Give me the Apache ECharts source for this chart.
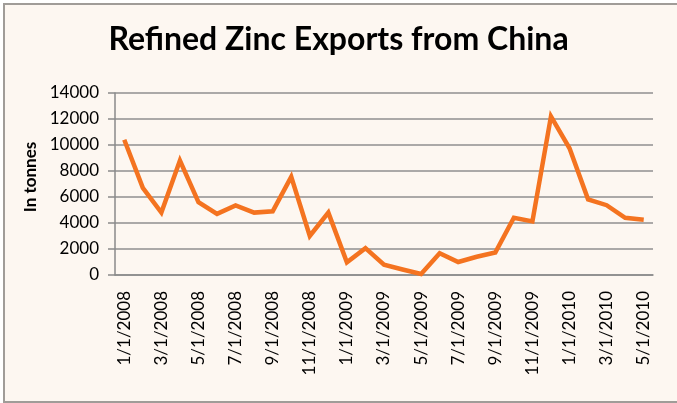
<!DOCTYPE html>
<html>
<head>
  <meta charset="UTF-8">
  <title>Refined Zinc Exports from China</title>
  <script src="https://cdn.jsdelivr.net/npm/echarts@6/dist/echarts.min.js"></script>
  <style>
    html, body { margin: 0; padding: 0; background: #fff; }
    #frame {
      position: absolute; left: 3px; top: 3px; width: 690px; height: 396px;
      border: 2px solid #a09c98; background: #fdf7f1;
    }
    #main { position: absolute; left: 0; top: 0; width: 677px; height: 403px; }
  </style>
</head>
<body>
<div id="frame"></div>
<div id="main"></div>
<script type="text/javascript">
  // monthly, 1/1/2008 .. 5/1/2010
  var months = [
    '1/1/2008', '2/1/2008', '3/1/2008', '4/1/2008', '5/1/2008', '6/1/2008',
    '7/1/2008', '8/1/2008', '9/1/2008', '10/1/2008', '11/1/2008', '12/1/2008',
    '1/1/2009', '2/1/2009', '3/1/2009', '4/1/2009', '5/1/2009', '6/1/2009',
    '7/1/2009', '8/1/2009', '9/1/2009', '10/1/2009', '11/1/2009', '12/1/2009',
    '1/1/2010', '2/1/2010', '3/1/2010', '4/1/2010', '5/1/2010'
  ];
  var exportsTonnes = [
    10400, 6700, 4800, 8800, 5600, 4700,
    5350, 4800, 4900, 7550, 3000, 4800,
    980, 2070, 790, 420, 80, 1680,
    1000, 1400, 1730, 4400, 4120, 12200,
    9750, 5820, 5370, 4400, 4250
  ];
  var yTicks = { min: 0, max: 14000, interval: 2000 };

  var myChart = echarts.init(document.getElementById('main'));

  var option = {
    backgroundColor: 'transparent',
    animation: false,
    title: {
      text: 'Refined Zinc Exports from China',
      left: 'center',
      top: 19,
      textStyle: {
        fontFamily: 'Lato',
        fontWeight: 'bold',
        fontSize: 32,
        color: '#000'
      }
    },
    grid: { left: 115, right: 24, top: 93, bottom: 128, containLabel: false },
    xAxis: {
      type: 'category',
      data: months,
      boundaryGap: true,
      axisLine: { lineStyle: { color: '#8a8a8a', width: 1.5 } },
      axisTick: { interval: 1, length: 6, lineStyle: { color: '#8a8a8a', width: 1.5 } },
      axisLabel: {
        interval: 1,
        rotate: 90,
        margin: 16,
        fontFamily: 'Lato',
        fontSize: 17,
        color: '#000'
      },
      splitLine: { show: false }
    },
    yAxis: {
      type: 'value',
      min: yTicks.min,
      max: yTicks.max,
      interval: yTicks.interval,
      name: 'In tonnes',
      nameLocation: 'middle',
      nameGap: 76,
      nameRotate: 90,
      nameTextStyle: {
        fontFamily: 'Lato',
        fontWeight: 'bold',
        fontSize: 17,
        color: '#000',
        padding: [0, 0, 0, 14]
      },
      axisLine: { show: true, lineStyle: { color: '#8a8a8a', width: 1.5 } },
      axisTick: { show: true, length: 7, lineStyle: { color: '#8a8a8a', width: 1.5 } },
      axisLabel: {
        margin: 16,
        fontFamily: 'Lato',
        fontSize: 17,
        color: '#000',
        formatter: function (v) { return String(v); }
      },
      splitLine: { lineStyle: { color: '#8f8f8f', width: 1.5 } }
    },
    series: [{
      name: 'Exports',
      type: 'line',
      data: exportsTonnes,
      showSymbol: false,
      lineStyle: { color: '#f47320', width: 4.5, join: 'miter' },
      itemStyle: { color: '#f47320' }
    }]
  };

  myChart.setOption(option);
</script>
</body>
</html>
